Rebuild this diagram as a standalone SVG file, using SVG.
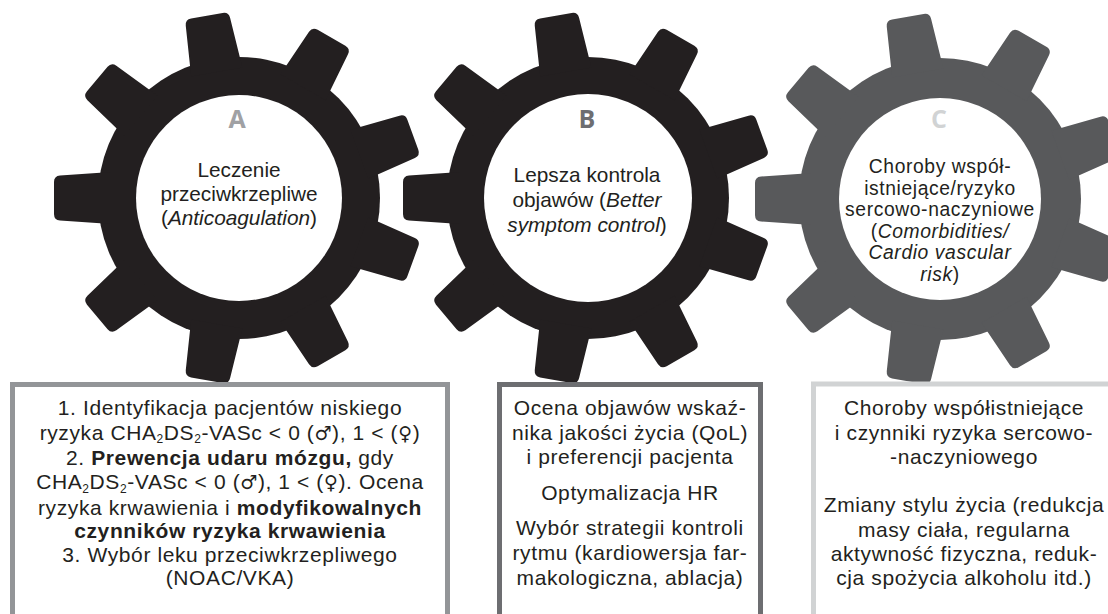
<svg xmlns="http://www.w3.org/2000/svg" xmlns:xlink="http://www.w3.org/1999/xlink" width="1108" height="614" viewBox="0 0 1108 614">
<style>
.t{font-family:"Liberation Sans",Arial,sans-serif;fill:#231f20;text-anchor:middle}
.g{font-size:20.8px}
.gc{font-size:19.3px;letter-spacing:0.6px}
.b{font-size:21px;letter-spacing:0.6px}
.L{font-family:"Open Sans","Liberation Sans",sans-serif;font-weight:bold;font-size:25px;text-anchor:middle}
.i{font-style:italic}
.bd{font-weight:bold}
.s{font-size:12px}
.sym{font-family:"DejaVu Sans",sans-serif;font-size:19px}
.box{fill:#fff;stroke-width:5}
</style>
<defs>
<path id="tooth" d="M128,-26 L179,-22.5 Q185,-22 185,-16 L185,16 Q185,22 179,22.5 L128,26 Z"/>
<g id="gear">
<circle r="141"/>
<use xlink:href="#tooth" href="#tooth" transform="rotate(180)"/>
<use xlink:href="#tooth" href="#tooth" transform="rotate(220)"/>
<use xlink:href="#tooth" href="#tooth" transform="rotate(260)"/>
<use xlink:href="#tooth" href="#tooth" transform="rotate(300)"/>
<use xlink:href="#tooth" href="#tooth" transform="rotate(340)"/>
<use xlink:href="#tooth" href="#tooth" transform="rotate(20)"/>
<use xlink:href="#tooth" href="#tooth" transform="rotate(60)"/>
<use xlink:href="#tooth" href="#tooth" transform="rotate(100)"/>
<use xlink:href="#tooth" href="#tooth" transform="rotate(140)"/>
</g>
</defs>
<rect width="1108" height="614" fill="#fff"/>

<g id="gearA">
<use xlink:href="#gear" href="#gear" transform="translate(239,198)" fill="#231f20"/>
<circle cx="239" cy="198" r="103" fill="#fff"/>
<text class="L" x="237" y="128" fill="#a0a1a4">A</text>
<text class="t g"><tspan x="239" y="177">Leczenie</tspan><tspan x="239" y="201">przeciwkrzepliwe</tspan><tspan x="239" y="225">(<tspan class="i">Anticoagulation</tspan>)</tspan></text>
</g>

<g id="gearB">
<use xlink:href="#gear" href="#gear" transform="translate(588,198)" fill="#231f20"/>
<circle cx="588" cy="198" r="104" fill="#fff"/>
<text class="L" x="587" y="128" fill="#6d6e71">B</text>
<text class="t g"><tspan x="587" y="182">Lepsza kontrola</tspan><tspan x="587" y="207">objawów (<tspan class="i">Better</tspan></tspan><tspan x="587" y="232"><tspan class="i">symptom control</tspan>)</tspan></text>
</g>

<g id="gearC">
<use xlink:href="#gear" href="#gear" transform="translate(940,199)" fill="#58595b"/>
<circle cx="940" cy="199" r="101" fill="#fff"/>
<text class="L" x="939" y="128" fill="#d1d3d4">C</text>
<text class="t gc"><tspan x="940" y="173">Choroby współ-</tspan><tspan x="940" y="194.6">istniejące/ryzyko</tspan><tspan x="940" y="216.2">sercowo-naczyniowe</tspan><tspan x="940" y="237.8">(<tspan class="i">Comorbidities/</tspan></tspan><tspan x="940" y="259.4" class="i">Cardio vascular</tspan><tspan x="940" y="281"><tspan class="i">risk</tspan>)</tspan></text>
</g>

<g id="boxA">
<rect class="box" x="12.5" y="384.5" width="435" height="260" stroke="#939598"/>
<text class="t b"><tspan x="230" y="415">1. Identyfikacja pacjentów niskiego</tspan><tspan x="230" y="439.5">ryzyka CHA</tspan><tspan class="s" dy="3.6">2</tspan><tspan dy="-3.6">DS</tspan><tspan class="s" dy="3.6">2</tspan><tspan dy="-3.6">-VASc &lt; 0 (</tspan><tspan class="sym">♂</tspan><tspan>), 1 &lt; (</tspan><tspan class="sym">♀</tspan><tspan>)</tspan><tspan x="230" y="465">2. <tspan class="bd">Prewencja udaru mózgu,</tspan> gdy</tspan><tspan x="230" y="489">CHA</tspan><tspan class="s" dy="3.6">2</tspan><tspan dy="-3.6">DS</tspan><tspan class="s" dy="3.6">2</tspan><tspan dy="-3.6">-VASc &lt; 0 (</tspan><tspan class="sym">♂</tspan><tspan>), 1 &lt; (</tspan><tspan class="sym">♀</tspan><tspan>). Ocena</tspan><tspan x="230" y="514.5">ryzyka krwawienia i <tspan class="bd">modyfikowalnych</tspan></tspan><tspan x="230" y="538" class="bd">czynników ryzyka krwawienia</tspan><tspan x="230" y="561.5">3. Wybór leku przeciwkrzepliwego</tspan><tspan x="230" y="585">(NOAC/VKA)</tspan></text>
</g>

<g id="boxB">
<rect class="box" x="499.5" y="384.5" width="261" height="260" stroke="#6d6e71"/>
<text class="t b"><tspan x="630" y="415">Ocena objawów wskaź-</tspan><tspan x="630" y="439.5">nika jakości życia (QoL)</tspan><tspan x="630" y="464">i preferencji pacjenta</tspan><tspan x="630" y="500">Optymalizacja HR</tspan><tspan x="630" y="535">Wybór strategii kontroli</tspan><tspan x="630" y="560">rytmu (kardiowersja far-</tspan><tspan x="630" y="585">makologiczna, ablacja)</tspan></text>
</g>

<g id="boxC">
<rect class="box" x="813.5" y="384" width="320" height="260" stroke="#d1d3d4"/>
<text class="t b"><tspan x="964" y="415">Choroby współistniejące</tspan><tspan x="964" y="439.5">i czynniki ryzyka sercowo-</tspan><tspan x="964" y="464">-naczyniowego</tspan><tspan x="964" y="512">Zmiany stylu życia (redukcja</tspan><tspan x="964" y="536.5">masy ciała, regularna</tspan><tspan x="964" y="561">aktywność fizyczna, reduk-</tspan><tspan x="964" y="585">cja spożycia alkoholu itd.)</tspan></text>
</g>

<g id="connectors"/>
</svg>
